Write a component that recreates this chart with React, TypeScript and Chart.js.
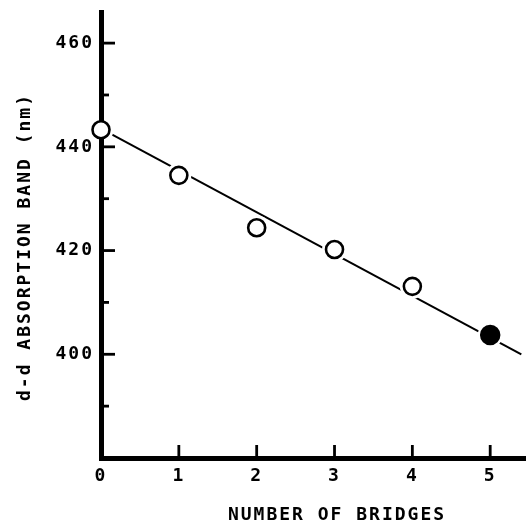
import { useEffect, useRef } from 'react';
import { Chart, registerables } from 'chart.js';

Chart.register(...registerables);

// ---- data ----
const bridges = [0, 1, 2, 3, 4, 5];
const bandNm = [443.3, 434.5, 424.4, 420.2, 413.1, 403.7];
const filled = [false, false, false, false, false, true];
const fitBridges = [0, 5.4];
const fitBandNm = [443.5, 400.0];
const yTickValues = [390, 400, 410, 420, 430, 440, 450, 460];
const yLabelTicks = [400, 420, 440, 460];
const xTickValues = [0, 1, 2, 3, 4, 5];
const xTitle = 'NUMBER OF BRIDGES';
const yTitle = 'd-d ABSORPTION BAND (nm)';

const FONT = '"DejaVu Sans Mono", "Liberation Mono", monospace';

const inwardTicks = {
  id: 'inwardTicks',
  beforeDraw(chart: any) {
    (chart.ctx as any).letterSpacing = '2px';
  },
  beforeDatasetsDraw(chart: any) {
    const { ctx, chartArea, scales } = chart;
    const x = scales.x;
    const y = scales.y;
    ctx.save();
    ctx.strokeStyle = '#000';
    ctx.lineWidth = 2.8;
    ctx.lineCap = 'butt';
    for (const t of y.ticks) {
      const v = t.value;
      if (v <= y.min || v >= y.max) continue;
      const py = y.getPixelForValue(v);
      const len = t.label ? 14 : 8;
      ctx.beginPath();
      ctx.moveTo(chartArea.left, py);
      ctx.lineTo(chartArea.left + len, py);
      ctx.stroke();
    }
    for (const t of x.ticks) {
      const v = t.value;
      if (v <= x.min || v >= x.max) continue;
      const px = x.getPixelForValue(v);
      ctx.beginPath();
      ctx.moveTo(px, chartArea.bottom);
      ctx.lineTo(px, chartArea.bottom - 13);
      ctx.stroke();
    }
    ctx.restore();
  },
  afterDraw(chart: any) {
    const { ctx } = chart;
    ctx.save();
    ctx.fillStyle = '#000';
    ctx.font = 'bold 18px ' + FONT;
    (ctx as any).letterSpacing = '2px';
    ctx.textAlign = 'center';
    ctx.textBaseline = 'middle';
    ctx.fillText(xTitle, 337, 515);
    ctx.translate(25, 247);
    ctx.rotate(-Math.PI / 2);
    ctx.fillText(yTitle, 0, 0);
    ctx.restore();
  },
};

export default function App() {
  const ref = useRef<HTMLCanvasElement | null>(null);

  useEffect(() => {
    document.body.style.margin = '0';
    const canvas = ref.current;
    if (!canvas) return;

    const pts = bridges.map((b, i) => ({ x: b, y: bandNm[i] }));
    const openPts = pts.filter((_, i) => !filled[i]);
    const filledPts = pts.filter((_, i) => filled[i]);
    const fitPts = fitBridges.map((b, i) => ({ x: b, y: fitBandNm[i] }));

    const chart = new Chart(canvas, {
      type: 'scatter',
      data: {
        datasets: [
          {
            data: openPts,
            backgroundColor: '#fff',
            borderColor: '#000',
            borderWidth: 2.6,
            pointRadius: 8.5,
            order: 0,
            clip: false,
          } as any,
          {
            data: filledPts,
            backgroundColor: '#000',
            borderColor: '#000',
            borderWidth: 2.5,
            pointRadius: 9,
            order: 0,
            clip: false,
          } as any,
          {
            data: pts,
            backgroundColor: '#fff',
            borderWidth: 0,
            pointRadius: 12.5,
            order: 1,
            clip: { left: -3, top: 0, right: 0, bottom: 0 },
          } as any,
          {
            data: fitPts,
            showLine: true,
            borderColor: '#000',
            borderWidth: 2,
            pointRadius: 0,
            order: 2,
          } as any,
        ],
      },
      options: {
        animation: false,
        responsive: false,
        devicePixelRatio: 1,
        events: [],
        layout: { autoPadding: false, padding: { top: 12, left: 0, right: 0, bottom: 0 } },
        plugins: { legend: { display: false }, tooltip: { enabled: false } },
        scales: {
          x: {
            type: 'linear',
            min: 0,
            max: 5.46,
            grid: { display: false, drawTicks: false },
            border: { display: true, color: '#000', width: 5 },
            afterBuildTicks: (s: any) => {
              s.ticks = xTickValues.map((v) => ({ value: v }));
            },
            ticks: {
              autoSkip: false,
              maxRotation: 0,
              padding: 8,
              color: '#000',
              font: { family: FONT, size: 18, weight: 'bold' },
              callback: (v: any) => String(v),
            },
            afterFit: (s: any) => {
              s.height = 64;
              s.paddingLeft = 0;
              s.paddingRight = 0;
            },
          },
          y: {
            type: 'linear',
            min: 380,
            max: 466,
            grid: { display: false, drawTicks: false },
            border: { display: true, color: '#000', width: 5 },
            afterBuildTicks: (s: any) => {
              s.ticks = yTickValues.map((v) => ({ value: v }));
            },
            ticks: {
              autoSkip: false,
              padding: 7,
              color: '#000',
              font: { family: FONT, size: 18, weight: 'bold' },
              callback: (v: any) => (yLabelTicks.includes(v) ? String(v) : ''),
            },
            afterFit: (s: any) => {
              s.width = 101;
              s.paddingTop = 0;
              s.paddingBottom = 0;
            },
          },
        },
      } as any,
      plugins: [inwardTicks],
    });

    return () => chart.destroy();
  }, []);

  return (
    <div style={{ width: 526, height: 522 }}>
      <canvas ref={ref} width={526} height={522} />
    </div>
  );
}
